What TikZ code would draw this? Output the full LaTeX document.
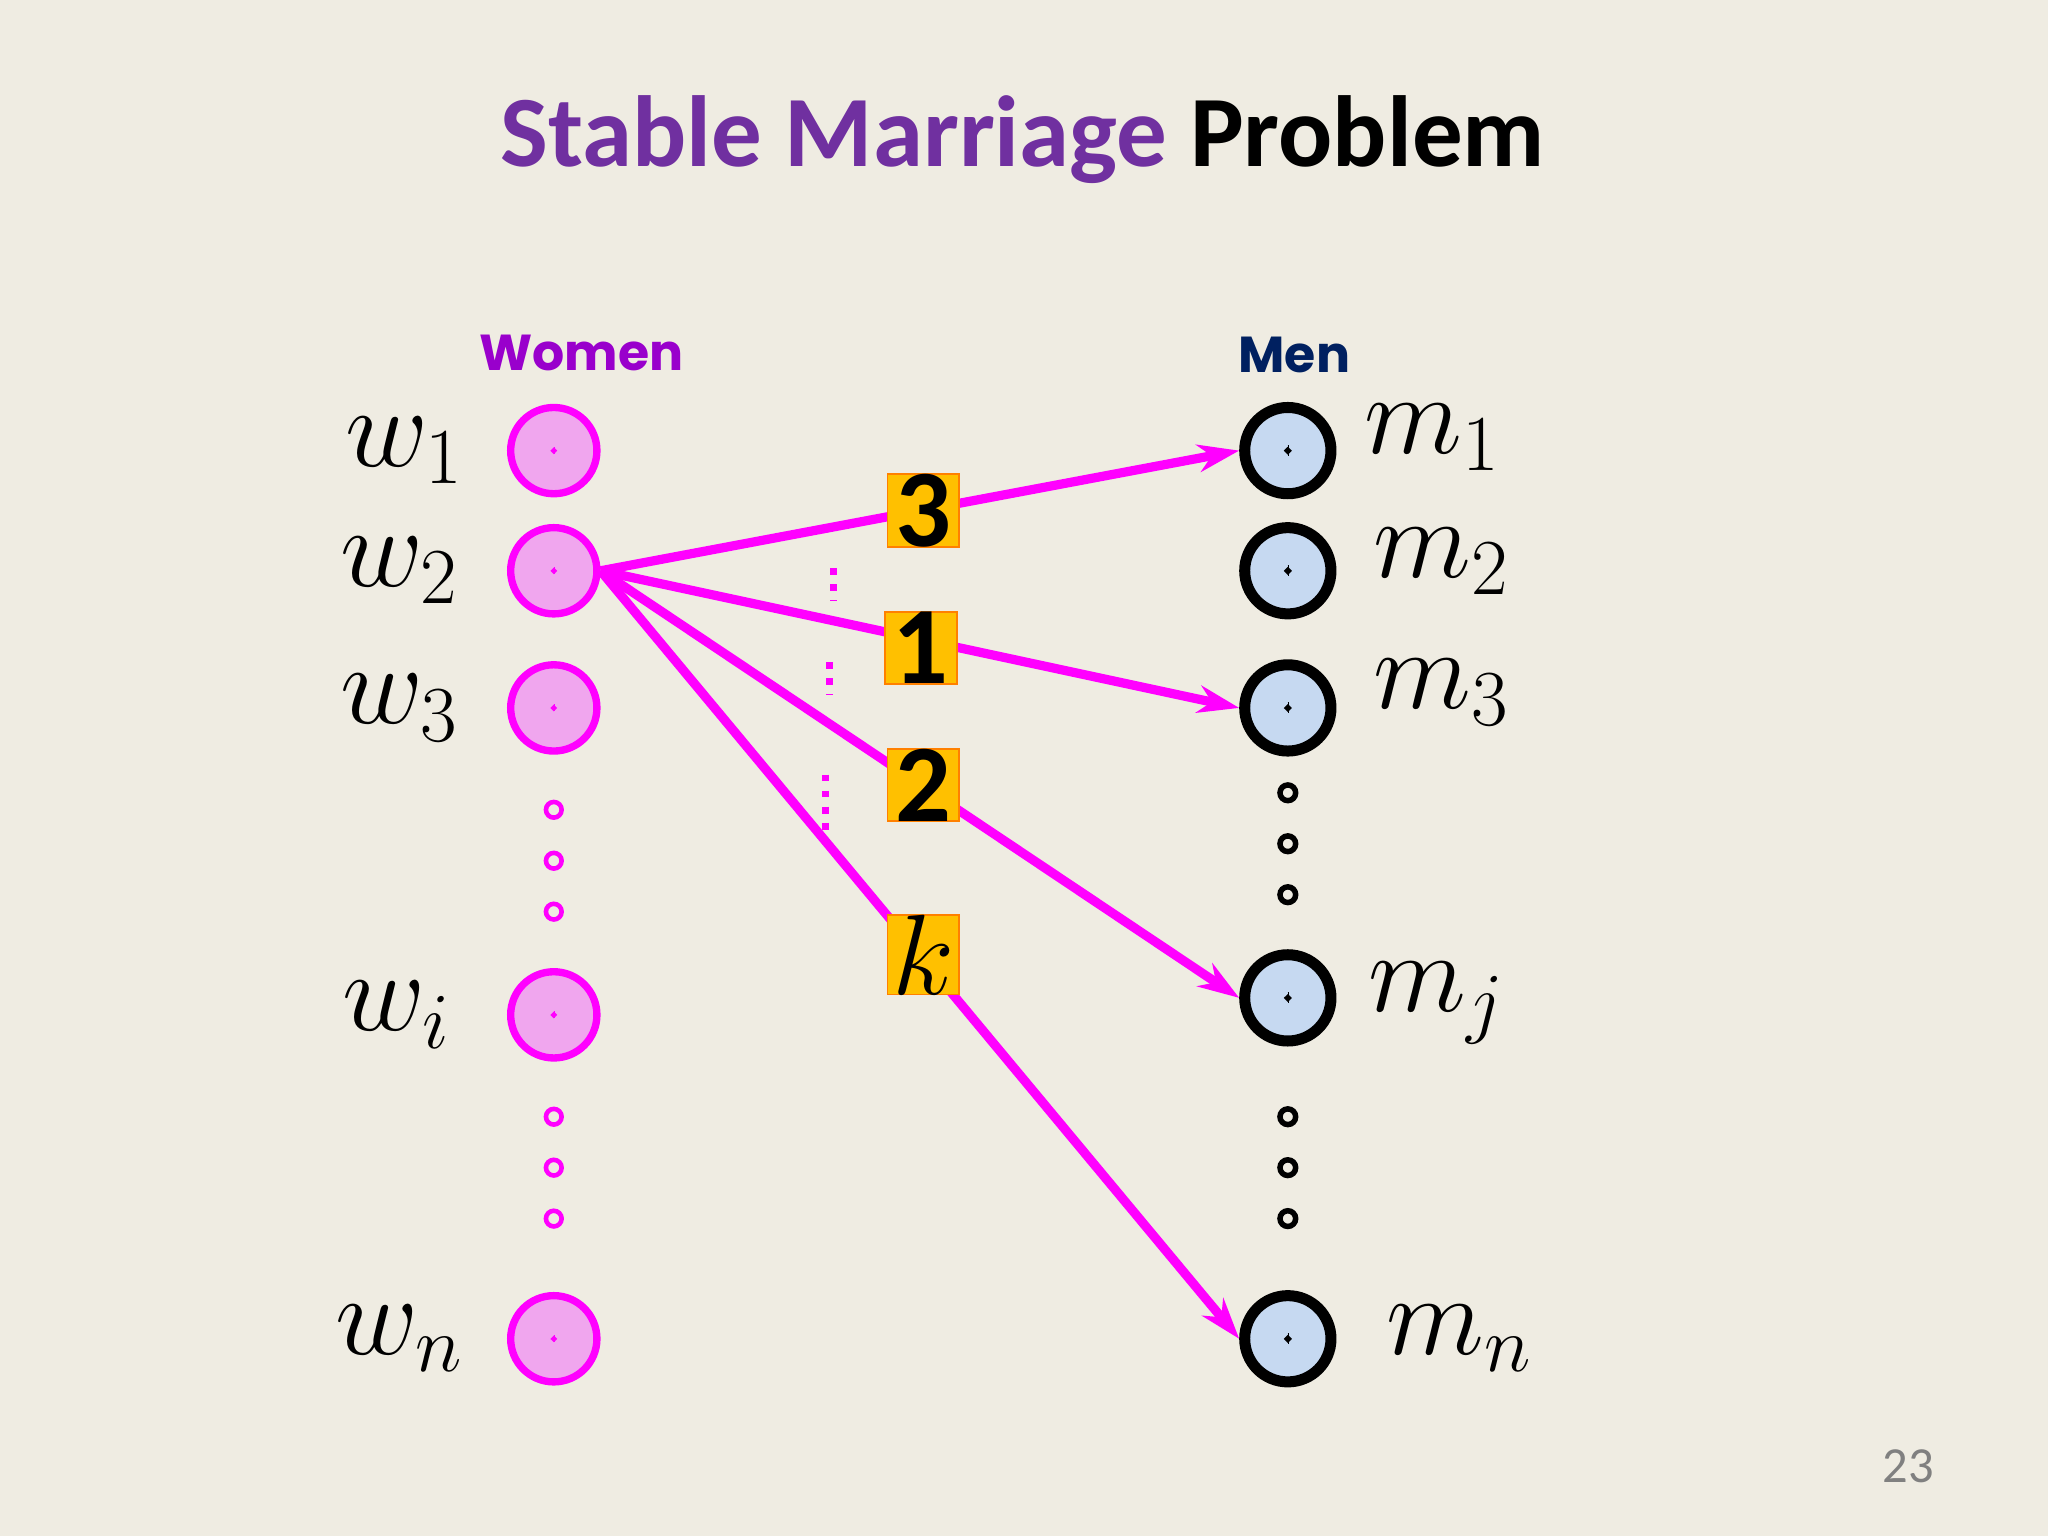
\documentclass[tikz,border=0pt]{standalone}
\usepackage{fontspec}
\setmainfont{Carlito}
\newfontfamily\heavy{Poppins}
\usetikzlibrary{arrows.meta,calc}
\definecolor{bg}{HTML}{EFECE2}
\definecolor{ttl}{HTML}{7030A0}
\definecolor{wfill}{HTML}{F0A6EE}
\definecolor{mfill}{HTML}{C6D9F1}
\definecolor{mag}{HTML}{FF00FF}
\definecolor{navy}{HTML}{002060}
\definecolor{wlab}{HTML}{9900CC}
\definecolor{boxc}{HTML}{FFC000}
\tikzset{
 wface/.style={circle,draw=mag,fill=wfill,line width=1.6pt,minimum size=0.66cm,inner sep=0},
 mface/.style={circle,draw=black,fill=mfill,line width=2.4pt,minimum size=0.66cm,inner sep=0},
 wdot/.style={circle,draw=mag,line width=1pt,minimum size=0.12cm,inner sep=0},
 mdot/.style={circle,draw=black,line width=1.2pt,minimum size=0.12cm,inner sep=0},
 lab/.style={font=\fontsize{24}{26}\selectfont},
 num/.style={draw=orange,fill=boxc,minimum width=0.55cm,minimum height=0.52cm,inner sep=0,font=\fontsize{24}{24}\selectfont\bfseries},
 arr/.style={mag,line width=2pt,-{Stealth[length=9pt,width=6pt]}},
 dl/.style={mag,line width=1.5pt,dotted}
}
\newcommand{\wfeat}[1]{%
 \draw[mag,line width=1pt] ($(#1)+(-0.09,0.08)$) circle (0.04) ($(#1)+(0.09,0.08)$) circle (0.04);
 \draw[mag,line width=1.6pt] ($(#1)+(-0.15,-0.15)$) -- ($(#1)+(0.15,-0.15)$);}
\newcommand{\mfeat}[1]{%
 \draw[black,line width=1.2pt] ($(#1)+(-0.09,0.08)$) circle (0.04) ($(#1)+(0.09,0.08)$) circle (0.04);
 \draw[black,line width=2.4pt] ($(#1)+(-0.16,-0.16)$) -- ($(#1)+(0.16,-0.16)$);}
\begin{document}
\begin{tikzpicture}[x=0.01cm,y=-0.01cm]
\fill[bg] (0,0) rectangle (1568,1176);
\node (title) at (783,107) {\fontsize{22}{24}\selectfont\bfseries\textcolor{ttl}{Stable Marriage} Problem};
\node (wl) at (445,270) {\heavy\fontsize{11}{12}\selectfont\bfseries\textcolor{wlab}{Women}};
\node (ml) at (991,272) {\heavy\fontsize{11}{12}\selectfont\bfseries\textcolor{navy}{Men}};
\foreach \n/\y in {1/345,2/437,3/542,i/777,n/1025}{
 \node[wface] (w\n) at (424,\y) {};
 \wfeat{w\n}
}
\foreach \n/\y in {1/345,2/437,3/542,j/764,n/1025}{
 \node[mface] (m\n) at (986,\y) {};
 \mfeat{m\n}
}
\foreach \y [count=\k] in {620,659,698,855,894,933}{\node[wdot] (wd\k) at (424,\y) {};}
\foreach \y [count=\k] in {607,646,685,855,894,933}{\node[mdot] (md\k) at (986,\y) {};}
\node[lab] (lw1) at (310,345) {$w_1$};
\node[lab] (lw2) at (306,437) {$w_2$};
\node[lab] (lw3) at (306,542) {$w_3$};
\node[lab] (lwi) at (304,777) {$w_i$};
\node[lab] (lwn) at (306,1025) {$w_n$};
\node[lab] (lm1) at (1097,335) {$m_1$};
\node[lab] (lm2) at (1104,430) {$m_2$};
\node[lab] (lm3) at (1104,530) {$m_3$};
\node[lab] (lmj) at (1100,768) {$m_j$};
\node[lab] (lmn) at (1118,1025) {$m_n$};
\draw[arr] (w2.east) -- (m1.west);
\draw[arr] (w2.east) -- (m3.west);
\draw[arr] (w2.east) -- (mj.west);
\draw[arr] (w2.east) -- (mn.west);
\node[num] (b3) at (707,391) {3};
\node[num] (b1) at (705,496) {1};
\node[num] (b2) at (707,601) {2};
\node[num] (bk) at (707,731) {$k$};
\coordinate (d1a) at (638,435); \coordinate (d1b) at (638,460);
\coordinate (d2a) at (635,507); \coordinate (d2b) at (635,532);
\coordinate (d3a) at (632,593); \coordinate (d3b) at (632,636);
\draw[dl] (d1a) -- (d1b); \draw[dl] (d2a) -- (d2b); \draw[dl] (d3a) -- (d3b);
\node[text=gray] (pg) at (1461,1123) {\fontsize{11}{12}\selectfont 23};
\end{tikzpicture}
\end{document}
